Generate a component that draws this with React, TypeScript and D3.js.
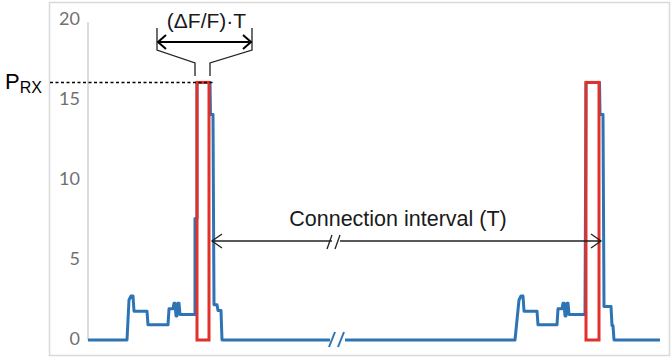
import React from 'react';
import * as d3 from 'd3';

// time (arbitrary units, first pulse train) vs received power
const trainA: [number, number][] = [
  [0, 0], [39, 0], [41, 2.5], [43, 2.75], [45, 2.75], [46, 1.8], [59, 1.8], [60, 0.95],
  [80, 0.95], [81, 1.95], [85, 1.95], [86, 2.3], [87, 2.3], [88, 1.5], [89, 1.5], [90, 2.3],
  [91, 2.3], [92, 1.6], [107, 1.6], [107, 7.6], [109, 7.6], [109, 16.1], [122, 16.1], [122.5, 14.1],
  [125, 14.1], [126, 2.2], [129, 2.2], [130, 1.85], [133, 1.85], [134, 0], [242, 0],
];
const trainB: [number, number][] = [
  [257, 0], [427, 0], [431, 2.5], [433, 2.75], [435, 2.75], [436, 1.8], [449, 1.8], [450, 0.95],
  [469, 0.95], [470, 1.95], [474, 1.95], [475, 2.3], [476, 2.3], [477, 1.5], [478, 1.5], [479, 2.3],
  [480, 2.3], [481, 1.6], [497, 1.6], [498, 16.1], [511.5, 16.1], [512, 14.1],
  [515, 14.1], [516, 2.1], [523, 2.1], [524, 0.9], [525, 0.9], [526, 0], [572, 0],
];
// receive windows (red)
const windows = [
  { start: 109, end: 121 },
  { start: 498, end: 511 },
];
const prx = 16.1;
const yTicks = [0, 5, 10, 15, 20];
const breakAt = 249;

const W = 671;
const H = 359;

export default function App() {
  const x = d3.scaleLinear().domain([0, 572]).range([88, 660]);
  const y = d3.scaleLinear().domain([0, 20]).range([340, 20]);
  const line = d3.line<[number, number]>().x(d => x(d[0])).y(d => y(d[1])).curve(d3.curveLinear);

  const blue = '#2e74b5';
  const red = '#e0312b';
  const bx = x(breakAt);
  const aY = 241;
  const a1 = x(windows[0].end) + 3;
  const a2 = x(windows[1].end) + 2;
  const bL = x(windows[0].start) - 40;
  const bR = x(windows[0].end) + 43;
  const w0l = x(windows[0].start) - 2;
  const w0r = x(windows[0].end) + 1;

  return (
    <svg width={W} height={H} style={{ position: 'absolute', left: 0, top: 0 }}>
      <rect x={49.5} y={2.5} width={620} height={353} fill="#fff" stroke="#d9d9d9" strokeWidth={1.5} />
      <line x1={88} x2={88} y1={y(20) + 2} y2={y(0)} stroke="#d0d0d0" strokeWidth={1.5} />
      {yTicks.map(t => (
        <text key={t} x={80} y={y(t) + 5} textAnchor="end" fontFamily="Lato, 'Open Sans', sans-serif"
          fontSize={18} fill="#707070">{t}</text>
      ))}

      <path d={line(trainA) ?? ''} fill="none" stroke={blue} strokeWidth={3} strokeLinejoin="round" />
      <path d={line(trainB) ?? ''} fill="none" stroke={blue} strokeWidth={3} strokeLinejoin="round" />
      {/* break on time axis */}
      <line x1={bx - 8} y1={y(0) + 7} x2={bx - 2} y2={y(0) - 8} stroke={blue} strokeWidth={2} />
      <line x1={bx + 1} y1={y(0) + 7} x2={bx + 7} y2={y(0) - 8} stroke={blue} strokeWidth={2} />

      {windows.map((w, i) => (
        <rect key={i} x={x(w.start)} y={y(prx)} width={x(w.end) - x(w.start)} height={y(0) - y(prx)}
          fill="none" stroke={red} strokeWidth={3} />
      ))}

      {/* P_RX */}
      <line x1={50} x2={x(windows[0].end) + 6} y1={y(prx)} y2={y(prx)} stroke="#000" strokeWidth={1.5}
        strokeDasharray="3,2.5" />
      <text x={5} y={89} fontFamily="'Liberation Sans', Arial, sans-serif" fontSize={22} fill="#000">
        P<tspan fontSize={16} dy={4}>RX</tspan>
      </text>

      {/* (ΔF/F)·T bracket */}
      <text x={(bL + bR) / 2 + 2} y={28} textAnchor="middle" fontFamily="'Liberation Sans', Arial, sans-serif"
        fontSize={21} fill="#1a1a1a">(ΔF/F)·T</text>
      <line x1={bL} x2={bR} y1={42} y2={42} stroke="#000" strokeWidth={2} />
      <path d={`M${bL + 9},35 L${bL + 1},42 L${bL + 9},49`} fill="none" stroke="#000" strokeWidth={2} />
      <path d={`M${bR - 9},35 L${bR - 1},42 L${bR - 9},49`} fill="none" stroke="#000" strokeWidth={2} />
      <path d={`M${bL},28 V50 L${w0l},63 V76`} fill="none" stroke="#222" strokeWidth={1.3} />
      <path d={`M${bR},28 V50 L${w0r},63 V76`} fill="none" stroke="#222" strokeWidth={1.3} />

      {/* Connection interval */}
      <text x={398} y={226} textAnchor="middle" fontFamily="'Liberation Sans', Arial, sans-serif"
        fontSize={21.5} fill="#1a1a1a">Connection interval (T)</text>
      <line x1={a1} x2={bx - 5} y1={aY} y2={aY} stroke="#222" strokeWidth={1.3} />
      <line x1={bx + 3} x2={a2} y1={aY} y2={aY} stroke="#222" strokeWidth={1.3} />
      <path d={`M${a1 + 10},${aY - 7} L${a1},${aY} L${a1 + 10},${aY + 7}`} fill="none" stroke="#222" strokeWidth={1.3} />
      <path d={`M${a2 - 10},${aY - 7} L${a2},${aY} L${a2 - 10},${aY + 7}`} fill="none" stroke="#222" strokeWidth={1.3} />
      <line x1={bx - 10} y1={aY + 8} x2={bx - 5} y2={aY - 6} stroke="#222" strokeWidth={1.3} />
      <line x1={bx - 2} y1={aY + 8} x2={bx + 3} y2={aY - 6} stroke="#222" strokeWidth={1.3} />
    </svg>
  );
}
